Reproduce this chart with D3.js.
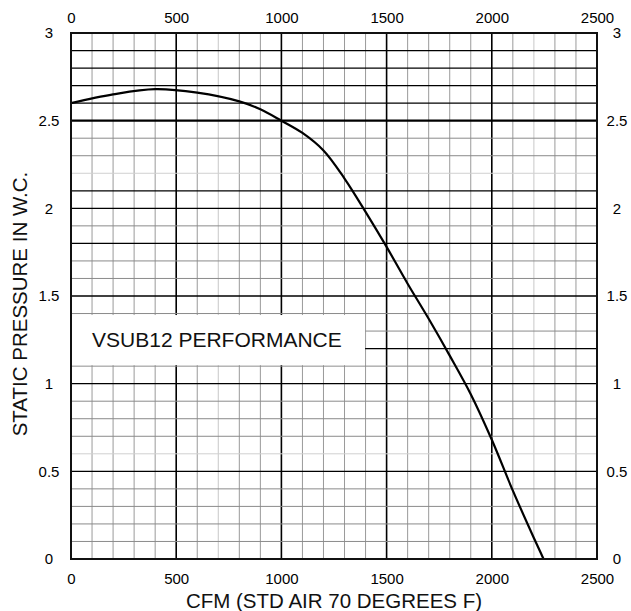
<!DOCTYPE html>
<html>
<head>
<meta charset="utf-8">
<script src="https://cdn.jsdelivr.net/npm/d3@7"></script>
<style>
  body { margin: 0; background: #fff; }
  svg { display: block; font-family: "Liberation Sans", Arial, sans-serif; }
  .tick-label text { font-size: 15px; fill: #000; }
</style>
</head>
<body>
<svg id="chart" width="631" height="611"></svg>
<script>
// fan curve
const cfm = [0, 200, 400, 600, 800, 900, 1000, 1100, 1200, 1300, 1400, 1500, 1600, 1700, 1800, 1900, 2000, 2100, 2200, 2246];
const pressure = [2.60, 2.65, 2.68, 2.66, 2.61, 2.565, 2.50, 2.43, 2.33, 2.17, 1.98, 1.78, 1.57, 1.37, 1.16, 0.94, 0.68, 0.39, 0.12, 0];

const xTicks = [0, 500, 1000, 1500, 2000, 2500];
const yTicks = [0, 0.5, 1, 1.5, 2, 2.5, 3];
const xGrid = d3.range(100, 2500, 100);
const yGrid = d3.range(1, 30).map((d) => +(d / 10).toFixed(1));

const TITLE = "VSUB12 PERFORMANCE";
const X_LABEL = "CFM (STD AIR 70 DEGREES F)";
const Y_LABEL = "STATIC PRESSURE IN W.C.";

// line weights of the printed grid (scan has uneven shades)
const H_DARK = [2.9, 2.8, 2.7, 2.6, 2.1, 2.0, 1.8, 1.5, 1.2, 1.0, 0.5];
const H_HEAVY = [2.5];
const H_LIGHT = [2.2, 0.6];
const V_LIGHT = [700, 2200];

const svg = d3.select("#chart");
const plotL = 71, plotR = 597, plotT = 33, plotB = 559;

const x = d3.scaleLinear().domain([0, 2500]).range([plotL, plotR]);
const y = d3.scaleLinear().domain([0, 3]).range([plotB, plotT]);

const hStyle = (v) => {
  if (H_HEAVY.includes(v)) return { c: "#000", w: 2.4 };
  if (H_DARK.includes(v)) return { c: "#000", w: 1.3 };
  if (H_LIGHT.includes(v)) return { c: "#d0d0d0", w: 1 };
  return { c: "#8a8a8a", w: 1 };
};
const vStyle = (v) => {
  if (v % 500 === 0) return { c: "#000", w: 1.6 };
  if (V_LIGHT.includes(v)) return { c: "#c8c8c8", w: 1 };
  return { c: "#9a9a9a", w: 1 };
};

const grid = svg.append("g");

grid.selectAll(".vline")
  .data(xGrid)
  .enter()
  .append("line")
  .attr("x1", (d) => x(d)).attr("x2", (d) => x(d))
  .attr("y1", plotT).attr("y2", plotB)
  .attr("stroke", (d) => vStyle(d).c)
  .attr("stroke-width", (d) => vStyle(d).w);

grid.selectAll(".hline")
  .data(yGrid)
  .enter()
  .append("line")
  .attr("x1", plotL).attr("x2", plotR)
  .attr("y1", (d) => y(d)).attr("y2", (d) => y(d))
  .attr("stroke", (d) => hStyle(d).c)
  .attr("stroke-width", (d) => hStyle(d).w);

// white label box sitting on the grid
svg.append("rect")
  .attr("x", x(0) + 1)
  .attr("y", y(1.4) + 1.5)
  .attr("width", x(1400) - x(0) - 1.5)
  .attr("height", y(1.1) - y(1.4) - 2.5)
  .attr("fill", "#fff");

svg.append("text")
  .attr("x", x(100))
  .attr("y", (y(1.4) + y(1.1)) / 2 + 7.5)
  .attr("font-size", 21)
  .attr("fill", "#111")
  .text(TITLE);

// curve
const line = d3.line()
  .x((d, i) => x(cfm[i]))
  .y((d) => y(d))
  .curve(d3.curveCatmullRom.alpha(0.5));

svg.append("path")
  .datum(pressure)
  .attr("d", line)
  .attr("fill", "none")
  .attr("stroke", "#000")
  .attr("stroke-width", 2.2);

// frame
svg.append("rect")
  .attr("x", plotL).attr("y", plotT)
  .attr("width", plotR - plotL).attr("height", plotB - plotT)
  .attr("fill", "none")
  .attr("stroke", "#111")
  .attr("stroke-width", 2);

// tick labels on all four sides
const fmt = (d) => String(d);

const axTop = svg.append("g")
  .attr("class", "tick-label")
  .attr("transform", "translate(0," + (plotT - 10) + ")")
  .call(d3.axisTop(x).tickValues(xTicks).tickSize(0).tickPadding(0).tickFormat(fmt));

const axBottom = svg.append("g")
  .attr("class", "tick-label")
  .attr("transform", "translate(0," + (plotB + 14) + ")")
  .call(d3.axisBottom(x).tickValues(xTicks).tickSize(0).tickPadding(0).tickFormat(fmt));

const axLeft = svg.append("g")
  .attr("class", "tick-label")
  .attr("transform", "translate(49,0)")
  .call(d3.axisLeft(y).tickValues(yTicks).tickSize(0).tickPadding(0).tickFormat(fmt));

const axRight = svg.append("g")
  .attr("class", "tick-label")
  .attr("transform", "translate(617,0)")
  .call(d3.axisRight(y).tickValues(yTicks).tickSize(0).tickPadding(0).tickFormat(fmt));

[axTop, axBottom, axLeft, axRight].forEach((g) => {
  g.select(".domain").remove();
  g.attr("font-family", null).attr("font-size", null);
});
axLeft.selectAll("text").attr("text-anchor", "middle");
axRight.selectAll("text").attr("text-anchor", "middle");

// axis titles
svg.append("text")
  .attr("x", (plotL + plotR) / 2)
  .attr("y", 608)
  .attr("text-anchor", "middle")
  .attr("font-size", 20.5)
  .attr("fill", "#111")
  .text(X_LABEL);

svg.append("text")
  .attr("transform", "translate(27," + 304 + ") rotate(-90)")
  .attr("text-anchor", "middle")
  .attr("font-size", 20.5)
  .attr("fill", "#111")
  .text(Y_LABEL);
</script>
</body>
</html>
